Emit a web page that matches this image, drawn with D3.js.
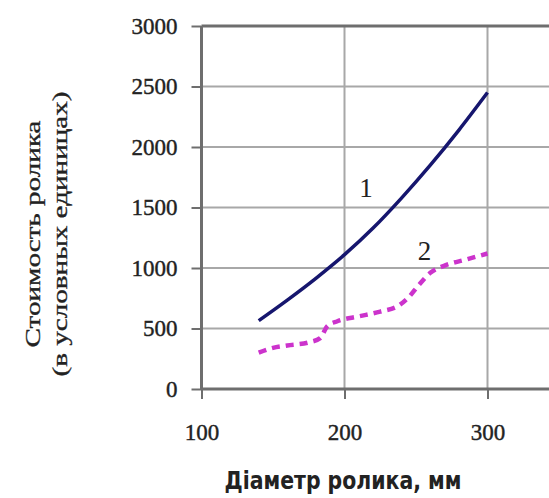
<!DOCTYPE html>
<html>
<head>
<meta charset="utf-8">
<script src="https://cdn.jsdelivr.net/npm/d3@7"></script>
<style>
  html, body { margin: 0; padding: 0; background: #fff; overflow: hidden; }
  svg { display: block; }
</style>
</head>
<body>
<svg id="chart"></svg>
<script>
const width = 549;
const height = 498;

// diameter (mm) -> cost, curve 1
const diam1 = [140, 160, 180, 200, 220, 240, 260, 280, 300];
const cost1 = [565, 735, 915, 1110, 1330, 1580, 1850, 2140, 2450];

// curve 2 (dashed)
const diam2 = [140, 150, 160, 175, 183, 188, 195, 210, 225, 238, 245, 252, 260, 270, 285, 300];
const cost2 = [300, 340, 360, 385, 420, 520, 560, 600, 640, 690, 760, 860, 960, 1020, 1070, 1120];

const xTicks = [100, 200, 300];
const xGrid = [200, 300, 400];
const yTicks = [0, 500, 1000, 1500, 2000, 2500, 3000];
const curveLabels = ['1', '2'];
const labelX = [215, 256];
const labelY = [1590, 1066];

const plotLeft = 201.5, plotRight = 630.5, plotTop = 26, plotBottom = 389;

const svg = d3.select('#chart')
    .attr('width', width)
    .attr('height', height);

const x = d3.scaleLinear().domain([100, 400]).range([plotLeft, plotRight]);
const y = d3.scaleLinear().domain([0, 3000]).range([plotBottom, plotTop]);

const serif = '"Liberation Serif", "Times New Roman", serif';

// grid
svg.append('g')
    .selectAll('line')
    .data(yTicks.filter(d => d > 0 && d < 3000))
    .enter().append('line')
        .attr('x1', plotLeft).attr('x2', plotRight)
        .attr('y1', d => y(d)).attr('y2', d => y(d))
        .attr('stroke', '#a8a8a8').attr('stroke-width', 2);

svg.append('g')
    .selectAll('line')
    .data(xGrid)
    .enter().append('line')
        .attr('x1', d => x(d)).attr('x2', d => x(d))
        .attr('y1', plotTop).attr('y2', plotBottom)
        .attr('stroke', '#a8a8a8').attr('stroke-width', 2);

// top border
svg.append('line')
    .attr('x1', plotLeft).attr('x2', plotRight)
    .attr('y1', plotTop).attr('y2', plotTop)
    .attr('stroke', '#6e6e6e').attr('stroke-width', 3);

// axes
const xAxis = svg.append('g')
    .attr('transform', `translate(0, ${plotBottom})`)
    .call(d3.axisBottom(x).tickValues(xTicks).tickSize(10).tickPadding(25).tickFormat(d3.format('d')));

const yAxis = svg.append('g')
    .attr('transform', `translate(${plotLeft}, 0)`)
    .call(d3.axisLeft(y).tickValues(yTicks).tickSize(10).tickPadding(14).tickFormat(d3.format('d')));

[xAxis, yAxis].forEach(a => {
    a.select('.domain').attr('stroke', '#6e6e6e').attr('stroke-width', 3);
    a.selectAll('.tick line').attr('stroke', '#6e6e6e').attr('stroke-width', 2);
    a.selectAll('.tick text')
        .attr('fill', '#222')
        .attr('stroke', '#222')
        .attr('stroke-width', 0.4)
        .style('font-family', serif)
        .style('font-size', '23px');
});
xAxis.select('.domain').attr('d', `M${plotLeft},0H${plotRight}`);
yAxis.select('.domain').attr('d', `M0,${plotTop}V${plotBottom}`);

// curves
const line = d3.line()
    .x(d => x(d[0]))
    .y(d => y(d[1]))
    .curve(d3.curveMonotoneX);

svg.append('path')
    .datum(d3.zip(diam1, cost1))
    .attr('fill', 'none')
    .attr('stroke', '#16166e')
    .attr('stroke-width', 3.5)
    .attr('d', line);

svg.append('path')
    .datum(d3.zip(diam2, cost2))
    .attr('fill', 'none')
    .attr('stroke', '#cc33cc')
    .attr('stroke-width', 4.5)
    .attr('stroke-dasharray', '8,6')
    .attr('d', line);

// curve numbers
svg.append('g')
    .selectAll('text')
    .data(curveLabels)
    .enter().append('text')
        .attr('x', (d, i) => x(labelX[i]))
        .attr('y', (d, i) => y(labelY[i]))
        .attr('text-anchor', 'middle')
        .attr('fill', '#222')
        .style('font-family', serif)
        .style('font-size', '27px')
        .text(d => d);

// axis titles
svg.append('text')
    .attr('x', 343)
    .attr('y', 489)
    .attr('text-anchor', 'middle')
    .attr('fill', '#222')
    .attr('textLength', 237)
    .attr('lengthAdjust', 'spacingAndGlyphs')
    .style('font-family', '"DejaVu Sans", sans-serif')
    .style('font-weight', 'bold')
    .style('font-size', '25px')
    .text('Діаметр ролика, мм');

const yTitle = svg.append('g')
    .attr('transform', 'translate(0, 234) rotate(-90)');

yTitle.append('text')
    .attr('x', 0).attr('y', 40)
    .attr('text-anchor', 'middle')
    .attr('fill', '#222')
    .attr('stroke', '#222')
    .attr('stroke-width', 0.3)
    .attr('textLength', 227)
    .attr('lengthAdjust', 'spacingAndGlyphs')
    .style('font-family', serif)
    .style('font-size', '21px')
    .text('Стоимость ролика');

yTitle.append('text')
    .attr('x', 0).attr('y', 67)
    .attr('text-anchor', 'middle')
    .attr('fill', '#222')
    .attr('stroke', '#222')
    .attr('stroke-width', 0.3)
    .attr('textLength', 285)
    .attr('lengthAdjust', 'spacingAndGlyphs')
    .style('font-family', serif)
    .style('font-size', '21px')
    .text('(в условных единицах)');
</script>
</body>
</html>
